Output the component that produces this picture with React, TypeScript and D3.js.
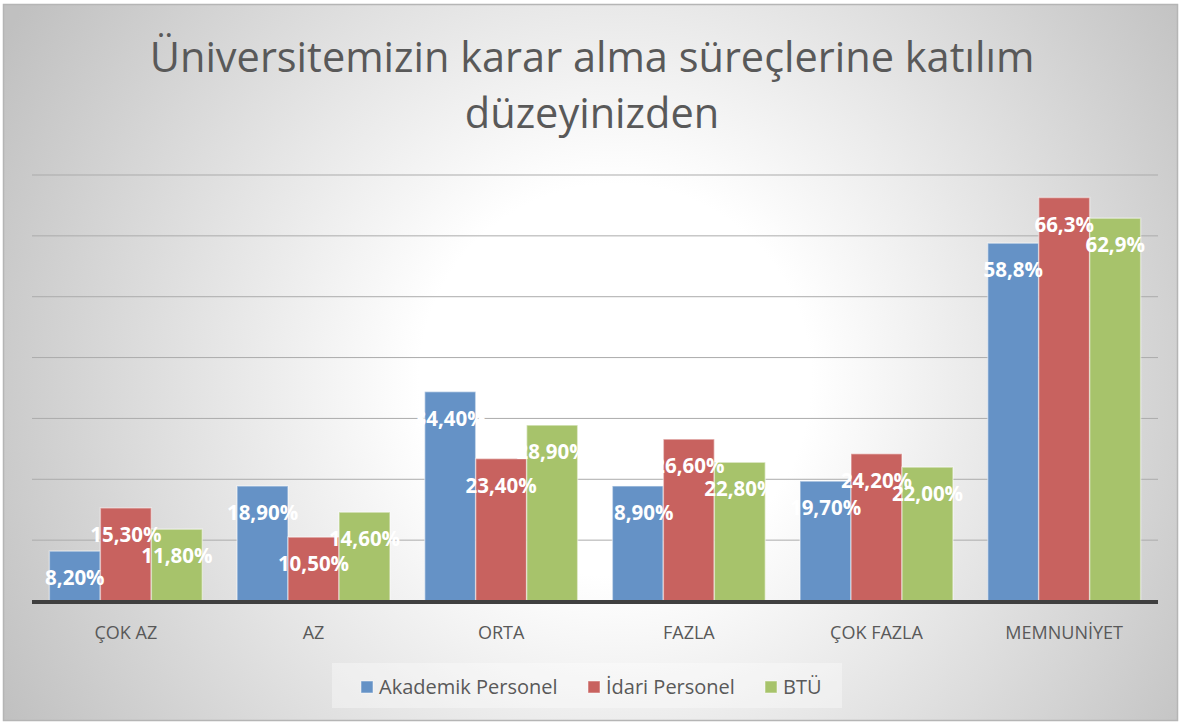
import React from 'react';
import * as d3 from 'd3';

const categories = ['ÇOK AZ', 'AZ', 'ORTA', 'FAZLA', 'ÇOK FAZLA', 'MEMNUNİYET'];
const seriesNames = ['Akademik Personel', 'İdari Personel', 'BTÜ'];
const akademik = [8.2, 18.9, 34.4, 18.9, 19.7, 58.8];
const idari = [15.3, 10.5, 23.4, 26.6, 24.2, 66.3];
const btu = [11.8, 14.6, 28.9, 22.8, 22.0, 62.9];
// decimals shown in the labels for each category
const labelDecimals = [2, 2, 2, 2, 2, 1];
const yTicks = [10, 20, 30, 40, 50, 60, 70];
const titleLines = ['Üniversitemizin karar alma süreçlerine katılım', 'düzeyinizden'];

const colors = ['#6592c6', '#c8625f', '#a7c36b'];
const W = 1180;
const H = 722;
const font = '"Open Sans", "Noto Sans", sans-serif';

const App: React.FC = () => {
  const series = [akademik, idari, btu];

  const x0 = d3.scaleBand<string>().domain(categories).range([32, 1158]).paddingInner(0.185).paddingOuter(0.0925);
  const x1 = d3.scaleBand<number>().domain([0, 1, 2]).range([0, x0.bandwidth()]);
  const y = d3.scaleLinear().domain([0, 70]).range([601, 175]);

  const fmt = (v: number, d: number) => v.toFixed(d).replace('.', ',') + '%';

  const legendX = [361, 588, 765];

  return (
    <div style={{ position: 'absolute', left: 0, top: 0 }}>
      <svg width={W} height={H} style={{ display: 'block' }}>
        <defs>
          <radialGradient id="bg" gradientUnits="userSpaceOnUse" cx={615} cy={380} r={700}>
            <stop offset="0" stopColor="#ffffff" />
            <stop offset="0.28" stopColor="#ffffff" />
            <stop offset="1" stopColor="#c0c0c0" />
          </radialGradient>
        </defs>
        <rect x={3.5} y={4.5} width={W - 6} height={H - 6} fill="url(#bg)" stroke="#b5b5b5" strokeWidth={1.5} />

        {titleLines.map((t, i) => (
          <text key={t} x={592} y={72 + i * 56} textAnchor="middle" fontFamily={font} fontSize={41.5} fill="#595959">
            {t}
          </text>
        ))}

        {yTicks.map((t) => (
          <line key={t} x1={32} x2={1158} y1={y(t)} y2={y(t)} stroke="#ababab" strokeWidth={1} />
        ))}

        {categories.map((c, ci) => (
          <g key={c} transform={`translate(${x0(c)},0)`}>
            {series.map((s, si) => (
              <rect
                key={si}
                x={x1(si)}
                y={y(s[ci])}
                width={x1.bandwidth()}
                height={y(0) - y(s[ci])}
                fill={colors[si]}
                stroke="rgba(255,255,255,0.45)"
                strokeWidth={1.5}
              />
            ))}
          </g>
        ))}

        <line x1={32} x2={1158} y1={602} y2={602} stroke="#404040" strokeWidth={4} />

        {categories.map((c, ci) => (
          <g key={c + 'l'}>
            {series.map((s, si) => (
              <text
                key={si}
                x={(x0(c) as number) + (x1(si) as number) + x1.bandwidth() / 2}
                y={y(s[ci]) + 34}
                textAnchor="middle"
                fontFamily={font}
                fontWeight="bold"
                fontSize={20.5}
                fill="#ffffff"
              >
                {fmt(s[ci], labelDecimals[ci])}
              </text>
            ))}
            <text
              x={(x0(c) as number) + x0.bandwidth() / 2}
              y={639}
              textAnchor="middle"
              fontFamily={font}
              fontSize={18}
              fill="#595959"
            >
              {c}
            </text>
          </g>
        ))}

        <rect x={332} y={663} width={510} height={45} fill="rgba(255,255,255,0.35)" />
        {seriesNames.map((n, i) => (
          <g key={n}>
            <rect x={legendX[i]} y={681} width={12} height={12} fill={colors[i]} stroke="rgba(255,255,255,0.5)" />
            <text x={legendX[i] + 18} y={694} fontFamily={font} fontSize={20} fill="#595959">
              {n}
            </text>
          </g>
        ))}
      </svg>
    </div>
  );
};

export default App;
